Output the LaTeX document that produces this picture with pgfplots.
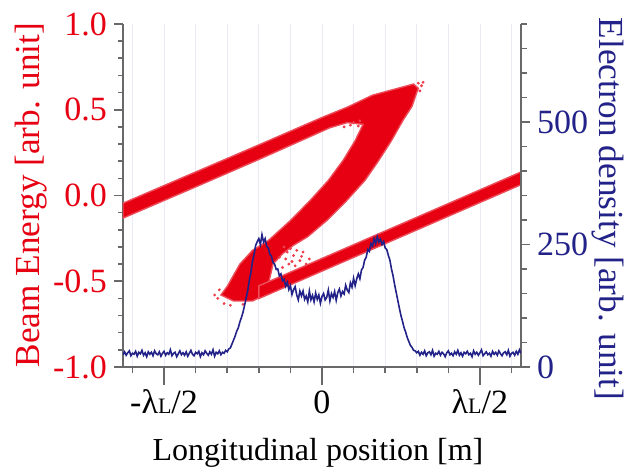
\documentclass[border=0pt]{standalone}
\usepackage{fontspec}
\setmainfont{Liberation Serif}
\usepackage{pgfplots}
\pgfplotsset{compat=1.18}
\definecolor{bred}{RGB}{230,0,18}
\definecolor{bblue}{RGB}{34,34,136}
\definecolor{gridc}{RGB}{234,234,244}
\definecolor{axc}{RGB}{105,105,105}
\newcommand{\tfont}{\fontsize{17}{20}\selectfont}
\newcommand{\xlfont}{\fontsize{16}{19}\selectfont}
\newcommand{\ylfont}{\fontsize{17.6}{21}\selectfont}
\pgfplotsset{base/.style={width=199pt, height=171.5pt, scale only axis,
  xmin=-0.63, xmax=0.63, at={(0,0)}, anchor=south west,
  /pgf/number format/assume math mode=true, tick align=outside,
  axis line style={axc, line width=0.8pt},
  every tick/.style={axc, line width=0.8pt}}}
\pgfplotstableread{
x y
-0.630 25
-0.625 31
-0.620 24
-0.615 29
-0.610 33
-0.605 23
-0.600 28
-0.595 26
-0.590 32
-0.585 22
-0.580 30
-0.575 27
-0.570 34
-0.565 24
-0.560 29
-0.555 21
-0.550 31
-0.545 26
-0.540 30
-0.535 23
-0.530 33
-0.525 27
-0.520 25
-0.515 31
-0.510 22
-0.505 28
-0.500 32
-0.495 24
-0.490 29
-0.485 26
-0.480 35
-0.475 23
-0.470 28
-0.465 30
-0.460 21
-0.455 27
-0.450 33
-0.445 25
-0.440 29
-0.435 24
-0.430 31
-0.425 22
-0.420 28
-0.415 34
-0.410 26
-0.405 23
-0.400 30
-0.395 27
-0.390 32
-0.385 21
-0.380 29
-0.375 25
-0.370 33
-0.365 28
-0.360 24
-0.355 31
-0.350 26
-0.345 35
-0.340 22
-0.335 30
-0.330 27
-0.325 33
-0.320 25
-0.315 30
-0.310 28
-0.305 34
-0.300 31
-0.295 37
-0.290 39
-0.285 47
-0.280 55
-0.275 63
-0.270 73
-0.265 80
-0.260 92
-0.255 101
-0.250 112
-0.245 126
-0.240 141
-0.235 156
-0.230 177
-0.225 193
-0.220 216
-0.215 230
-0.210 248
-0.205 256
-0.200 262
-0.195 250
-0.190 270
-0.185 255
-0.180 262
-0.175 246
-0.170 243
-0.165 230
-0.160 226
-0.155 213
-0.150 210
-0.145 199
-0.140 200
-0.135 186
-0.130 190
-0.125 176
-0.120 179
-0.115 165
-0.110 173
-0.105 158
-0.100 166
-0.095 148
-0.090 158
-0.085 164
-0.080 147
-0.075 137
-0.070 155
-0.065 145
-0.060 155
-0.055 138
-0.050 145
-0.045 133
-0.040 155
-0.035 137
-0.030 146
-0.025 133
-0.020 151
-0.015 138
-0.010 147
-0.005 130
0.000 144
0.005 150
0.010 137
0.015 142
0.020 157
0.025 135
0.030 150
0.035 142
0.040 154
0.045 136
0.050 152
0.055 159
0.060 145
0.065 154
0.070 149
0.075 167
0.080 157
0.085 152
0.090 172
0.095 163
0.100 181
0.105 166
0.110 180
0.115 190
0.120 180
0.125 198
0.130 203
0.135 218
0.140 224
0.145 240
0.150 236
0.155 252
0.160 247
0.165 262
0.170 252
0.175 266
0.180 255
0.185 261
0.190 250
0.195 256
0.200 243
0.205 240
0.210 228
0.215 218
0.220 200
0.225 186
0.230 168
0.235 152
0.240 136
0.245 120
0.250 105
0.255 93
0.260 80
0.265 71
0.270 60
0.275 52
0.280 44
0.285 40
0.290 34
0.295 33
0.300 29
0.305 32
0.310 24
0.315 30
0.320 26
0.325 33
0.330 23
0.335 29
0.340 31
0.345 25
0.350 34
0.355 22
0.360 28
0.365 26
0.370 32
0.375 24
0.380 30
0.385 27
0.390 21
0.395 29
0.400 33
0.405 25
0.410 28
0.415 23
0.420 31
0.425 26
0.430 34
0.435 24
0.440 29
0.445 22
0.450 30
0.455 27
0.460 32
0.465 25
0.470 28
0.475 21
0.480 33
0.485 26
0.490 30
0.495 24
0.500 29
0.505 35
0.510 23
0.515 27
0.520 31
0.525 25
0.530 28
0.535 22
0.540 32
0.545 26
0.550 30
0.555 24
0.560 33
0.565 27
0.570 23
0.575 29
0.580 31
0.585 25
0.590 34
0.595 22
0.600 28
0.605 30
0.610 24
0.615 32
0.620 26
0.625 35
0.630 28
}\density
\begin{document}
\begin{tikzpicture}
% x axis with grid
\begin{axis}[base, axis x line*=bottom, axis y line=none, ymin=0, ymax=1, ytick=\empty,
  xtick={-0.5,0,0.5},
  xticklabels={{-λ{\fontsize{11}{11}\selectfont L}/2},{0},{λ{\fontsize{11}{11}\selectfont L}/2}},
  minor xtick={-0.6,-0.4,-0.3,-0.2,-0.1,0.1,0.2,0.3,0.4,0.6},
  xmajorgrids, xminorgrids, grid style={gridc, line width=0.4pt},
  major tick length=9pt, minor tick length=3pt,
  xticklabel style={font=\tfont, black, anchor=base, yshift=-14pt}]
\addplot[draw=none] coordinates {(0,0.5)};
\end{axis}
% left y: beam energy
\begin{axis}[base, axis y line*=left, axis x line=none, xtick=\empty,
  ymin=-1, ymax=1, ytick={-1,-0.5,0,0.5,1}, yticklabels={-1.0,-0.5,0.0,0.5,1.0},
  minor y tick num=4, major tick length=4.5pt, minor tick length=2.5pt,
  yticklabel style={font=\tfont, bred}]
\addplot[only marks, mark=*, mark size=0.5pt, bred!75, mark options={draw=none}] coordinates {
(-0.12,-0.30) (-0.11,-0.33) (-0.115,-0.37) (-0.10,-0.31) (-0.09,-0.35) (-0.105,-0.40)
(-0.08,-0.32) (-0.07,-0.38) (-0.125,-0.42) (-0.06,-0.33) (-0.085,-0.41)
(-0.135,-0.36) (-0.05,-0.40) (-0.095,-0.385) (-0.065,-0.355) (-0.04,-0.37)
(0.305,0.655) (0.315,0.64) (0.32,0.66) (0.31,0.61)
(0.12,0.435) (0.10,0.425) (0.115,0.405) (0.09,0.41) (0.07,0.40)
(-0.33,-0.60) (-0.325,-0.55) (-0.31,-0.63) (-0.25,-0.635) (-0.34,-0.58) (-0.29,-0.64)
};
\addplot[fill=bred, draw=bred!70, line width=0.7pt] coordinates {
(-0.63,-0.045) (-0.4,0.137) (-0.2,0.295) (0,0.455) (0.08,0.515) (0.16,0.585)
(0.24,0.625) (0.29,0.65) (0.305,0.625) (0.30,0.60) (0.285,0.52) (0.257,0.44)
(0.22,0.32) (0.18,0.205) (0.136,0.088) (0.078,-0.03) (0.015,-0.146) (-0.045,-0.24)
(-0.09,-0.29) (-0.125,-0.34) (-0.155,-0.40) (-0.165,-0.48) (-0.18,-0.58)
(-0.22,-0.615) (-0.28,-0.615) (-0.32,-0.58)
(-0.30,-0.53) (-0.26,-0.40) (-0.22,-0.32) (-0.17,-0.263) (-0.10,-0.146) (-0.038,-0.03)
(0.02,0.088) (0.067,0.205) (0.105,0.32) (0.13,0.415) (0.08,0.425) (0.025,0.395)
(-0.2,0.21) (-0.4,0.05) (-0.63,-0.132)
} -- cycle;
\addplot[fill=bred, draw=bred!70, line width=0.7pt] coordinates {
(-0.2,-0.527) (0.63,0.137) (0.63,0.063) (-0.2,-0.601)
} -- cycle;
\end{axis}
% right y: electron density
\begin{axis}[base, axis y line*=right, axis x line=none, xtick=\empty,
  ymin=0, ymax=700, ytick={0,250,500},
  minor ytick={50,100,150,200,300,350,400,450,550,600,650,700},
  major tick length=4.5pt, minor tick length=3pt,
  yticklabel style={font=\tfont, bblue}]
\addplot[bblue, line width=0.8pt] table[x=x, y=y] {\density};
\end{axis}
\begin{scope}[x=0.5pt, y=0.5pt]
\node[font=\xlfont, anchor=base, inner sep=0pt] at (195,-93) {Longitudinal position [m]};
\node[font=\ylfont, anchor=base, inner sep=0pt, rotate=90, text=bred] at (-83,172) {Beam Energy [arb. unit]};
\node[font=\ylfont, anchor=base, inner sep=0pt, rotate=-90, text=bblue] at (476,158) {Electron density [arb. unit]};
\end{scope}
\pgfresetboundingbox
\useasboundingbox (-61.5pt,-49.5pt) rectangle (251.5pt,183.5pt);
\end{tikzpicture}
\end{document}
